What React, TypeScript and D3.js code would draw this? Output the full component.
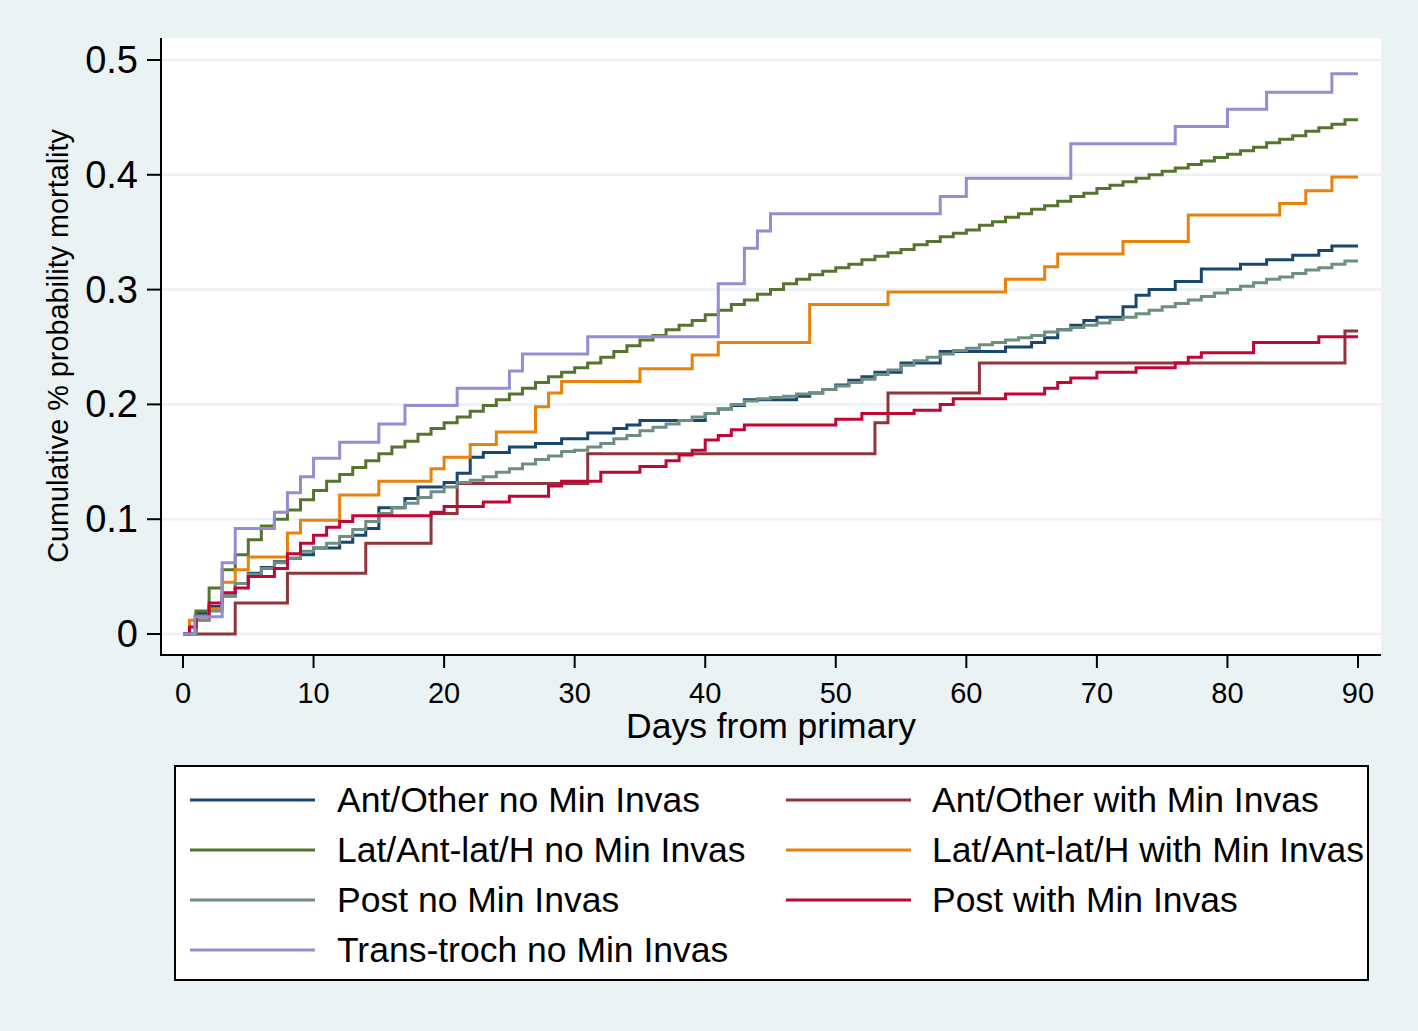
import React from "react";
import * as d3 from "d3";

// ---------- data (step points: [day, cumulative probability]) ----------
const antNoT = [0, 1, 2, 3, 4, 5, 6, 7, 8, 9, 10, 12, 13, 14, 15, 17, 18, 20, 21, 22, 23, 25, 27, 29, 31, 33, 34, 35, 40, 41, 42, 43, 47, 48, 49, 50, 51, 52, 53, 55, 58, 63, 65, 66, 67, 68, 69, 70, 72, 73, 74, 76, 78, 81, 83, 85, 87, 88];
const antNoV = [0, 0.018, 0.024, 0.033, 0.044, 0.053, 0.058, 0.063, 0.066, 0.069, 0.075, 0.08, 0.086, 0.092, 0.11, 0.118, 0.128, 0.132, 0.14, 0.154, 0.158, 0.163, 0.166, 0.17, 0.175, 0.179, 0.182, 0.186, 0.192, 0.196, 0.199, 0.204, 0.207, 0.21, 0.213, 0.217, 0.221, 0.224, 0.228, 0.236, 0.246, 0.25, 0.254, 0.258, 0.265, 0.269, 0.273, 0.276, 0.285, 0.295, 0.3, 0.307, 0.318, 0.322, 0.326, 0.33, 0.334, 0.338];

const antWithT = [0, 4, 8, 14, 19, 21, 31, 53, 54, 61, 89];
const antWithV = [0, 0.027, 0.053, 0.079, 0.105, 0.131, 0.157, 0.184, 0.21, 0.236, 0.264];

const latNoT = [0, 1, 2, 3, 4, 5, 6, 7, 8, 9, 10, 11, 12, 13, 14, 15, 16, 17, 18, 19, 20, 21, 22, 23, 24, 25, 26, 27, 28, 29, 30, 31, 32, 33, 34, 35, 36, 37, 38, 39, 40, 41, 42, 43, 44, 45, 46, 47, 48, 49, 50, 51, 52, 53, 54, 55, 56, 57, 58, 59, 60, 61, 62, 63, 64, 65, 66, 67, 68, 69, 70, 71, 72, 73, 74, 75, 76, 77, 78, 79, 80, 81, 82, 83, 84, 85, 86, 87, 88, 89];
const latNoV = [0, 0.02, 0.04, 0.056, 0.069, 0.082, 0.094, 0.1, 0.108, 0.117, 0.125, 0.133, 0.139, 0.145, 0.151, 0.157, 0.163, 0.168, 0.174, 0.179, 0.184, 0.189, 0.194, 0.199, 0.204, 0.209, 0.214, 0.219, 0.224, 0.228, 0.232, 0.236, 0.241, 0.246, 0.251, 0.256, 0.26, 0.265, 0.269, 0.273, 0.278, 0.282, 0.287, 0.291, 0.296, 0.3, 0.305, 0.309, 0.313, 0.316, 0.319, 0.322, 0.326, 0.329, 0.332, 0.335, 0.339, 0.342, 0.346, 0.349, 0.352, 0.356, 0.359, 0.363, 0.366, 0.37, 0.373, 0.377, 0.381, 0.384, 0.388, 0.391, 0.394, 0.397, 0.4, 0.403, 0.406, 0.409, 0.412, 0.415, 0.418, 0.421, 0.424, 0.428, 0.431, 0.434, 0.438, 0.441, 0.444, 0.448];

const latWithT = [0, 0.5, 2, 3, 4, 5, 8, 9, 12, 15, 19, 20, 22, 24, 27, 28, 29, 35, 39, 41, 48, 54, 63, 66, 67, 72, 77, 84, 86, 88];
const latWithV = [0, 0.012, 0.022, 0.045, 0.056, 0.067, 0.088, 0.099, 0.121, 0.133, 0.144, 0.154, 0.165, 0.176, 0.198, 0.21, 0.22, 0.231, 0.243, 0.254, 0.287, 0.298, 0.309, 0.32, 0.331, 0.342, 0.365, 0.375, 0.386, 0.398];

const postNoT = [0, 1, 2, 3, 4, 5, 6, 7, 8, 9, 10, 11, 12, 13, 14, 15, 16, 17, 18, 19, 20, 21, 22, 23, 24, 25, 26, 27, 28, 29, 30, 31, 32, 33, 34, 35, 36, 37, 38, 39, 40, 41, 42, 43, 44, 45, 46, 47, 48, 49, 50, 51, 52, 53, 54, 55, 56, 57, 58, 59, 60, 61, 62, 63, 64, 65, 66, 67, 68, 69, 70, 71, 72, 73, 74, 75, 76, 77, 78, 79, 80, 81, 82, 83, 84, 85, 86, 87, 88, 89];
const postNoV = [0, 0.012, 0.02, 0.033, 0.044, 0.052, 0.057, 0.062, 0.066, 0.072, 0.075, 0.079, 0.085, 0.091, 0.098, 0.105, 0.11, 0.114, 0.119, 0.124, 0.128, 0.132, 0.134, 0.137, 0.141, 0.144, 0.148, 0.152, 0.155, 0.159, 0.16, 0.163, 0.166, 0.17, 0.173, 0.177, 0.18, 0.183, 0.186, 0.189, 0.192, 0.196, 0.2, 0.203, 0.205, 0.206, 0.207, 0.209, 0.21, 0.213, 0.216, 0.219, 0.222, 0.226, 0.23, 0.234, 0.238, 0.241, 0.244, 0.247, 0.249, 0.252, 0.254, 0.256, 0.258, 0.26, 0.263, 0.265, 0.267, 0.269, 0.271, 0.274, 0.276, 0.279, 0.282, 0.285, 0.288, 0.291, 0.294, 0.297, 0.3, 0.303, 0.306, 0.309, 0.311, 0.314, 0.317, 0.319, 0.322, 0.325];

const postWithT = [0, 0.5, 1, 2, 3, 4, 5, 7, 8, 9, 10, 11, 12, 13, 19, 20, 23, 25, 28, 29, 32, 35, 37, 38, 39, 40, 41, 42, 43, 50, 52, 56, 58, 59, 63, 66, 67, 68, 70, 73, 76, 77, 78, 82, 87];
const postWithV = [0, 0.006, 0.015, 0.027, 0.036, 0.04, 0.05, 0.057, 0.07, 0.079, 0.086, 0.093, 0.098, 0.103, 0.106, 0.111, 0.115, 0.12, 0.129, 0.133, 0.141, 0.146, 0.151, 0.156, 0.16, 0.169, 0.173, 0.178, 0.182, 0.187, 0.192, 0.195, 0.2, 0.205, 0.209, 0.214, 0.219, 0.223, 0.228, 0.232, 0.236, 0.241, 0.245, 0.254, 0.259];

const transT = [0, 0.9, 3, 4, 7, 8, 9, 10, 12, 15, 17, 21, 25, 26, 31, 41, 43, 44, 45, 58, 60, 68, 76, 80, 83, 88];
const transV = [0, 0.015, 0.062, 0.092, 0.106, 0.123, 0.137, 0.153, 0.167, 0.183, 0.199, 0.214, 0.229, 0.244, 0.259, 0.305, 0.336, 0.351, 0.366, 0.381, 0.397, 0.427, 0.442, 0.457, 0.472, 0.488];

const seriesNames = [
  "Ant/Other no Min Invas",
  "Ant/Other with Min Invas",
  "Lat/Ant-lat/H no Min Invas",
  "Lat/Ant-lat/H with Min Invas",
  "Post no Min Invas",
  "Post with Min Invas",
  "Trans-troch no Min Invas",
];
const seriesColors = ["#1a476f", "#90353b", "#55752f", "#e8820a", "#6e8e84", "#c10534", "#938dd2"];
const seriesTimes = [antNoT, antWithT, latNoT, latWithT, postNoT, postWithT, transT];
const seriesValues = [antNoV, antWithV, latNoV, latWithV, postNoV, postWithV, transV];

const xTicks = [0, 10, 20, 30, 40, 50, 60, 70, 80, 90];
const yTicks = [0, 0.1, 0.2, 0.3, 0.4, 0.5];
const yTickLabels = ["0", "0.1", "0.2", "0.3", "0.4", "0.5"];
const maxDay = 90;

const legendOrder = [0, 1, 2, 3, 4, 5, 6];

const W = 1418;
const H = 1031;
const FONT = "'Liberation Sans', Arial, Helvetica, sans-serif";
const BG = "#eaf2f3";

export default function App() {
  const plot = { left: 161, right: 1381, top: 38, bottom: 655 };
  const x = d3.scaleLinear().domain([0, 90]).range([183, 1358]);
  const y = d3.scaleLinear().domain([0, 0.5]).range([634, 60]);

  const line = d3
    .line<[number, number]>()
    .x((d) => x(d[0]))
    .y((d) => y(d[1]))
    .curve(d3.curveStepAfter);

  const paths = seriesTimes.map((ts, i) => {
    const vs = seriesValues[i];
    const pts: [number, number][] = ts.map((t, j) => [t, vs[j]]);
    pts.push([maxDay, vs[vs.length - 1]]);
    return line(pts) || "";
  });

  const legX = [190, 786];
  const legTextX = [337, 932];
  const legRowY = [800, 850, 900, 950];

  return (
    <svg
      width={W}
      height={H}
      style={{ position: "absolute", left: 0, top: 0, display: "block" }}
      fontFamily={FONT}
    >
      <rect x={0} y={0} width={W} height={H} fill={BG} />
      <rect
        x={plot.left}
        y={plot.top}
        width={plot.right - plot.left}
        height={plot.bottom - plot.top}
        fill="#ffffff"
      />
      {yTicks.map((t) => (
        <line
          key={"g" + t}
          x1={plot.left}
          x2={plot.right}
          y1={y(t)}
          y2={y(t)}
          stroke={BG}
          strokeWidth={2.5}
        />
      ))}
      {paths.map((d, i) => (
        <path key={"s" + i} d={d} fill="none" stroke={seriesColors[i]} strokeWidth={3} strokeLinejoin="miter" />
      ))}
      <line x1={plot.left} x2={plot.left} y1={plot.top} y2={plot.bottom + 1} stroke="#000" strokeWidth={2} />
      <line x1={plot.left - 1} x2={plot.right} y1={plot.bottom} y2={plot.bottom} stroke="#000" strokeWidth={2} />
      {yTicks.map((t, i) => (
        <g key={"yt" + t}>
          <line x1={147} x2={plot.left} y1={y(t)} y2={y(t)} stroke="#000" strokeWidth={2} />
          <text x={138} y={y(t)} textAnchor="end" dominantBaseline="central" fontSize={38} fill="#000">
            {yTickLabels[i]}
          </text>
        </g>
      ))}
      {xTicks.map((t) => (
        <g key={"xt" + t}>
          <line x1={x(t)} x2={x(t)} y1={plot.bottom} y2={668} stroke="#000" strokeWidth={2} />
          <text x={x(t)} y={693} textAnchor="middle" dominantBaseline="central" fontSize={29} fill="#000">
            {t}
          </text>
        </g>
      ))}
      <text x={771} y={726} textAnchor="middle" dominantBaseline="central" fontSize={35.5} fill="#000">
        Days from primary
      </text>
      <text
        transform={`translate(58,346) rotate(-90)`}
        textAnchor="middle"
        dominantBaseline="central"
        fontSize={28.8}
        fill="#000"
      >
        Cumulative % probability mortality
      </text>
      <rect x={175} y={766} width={1193} height={214} fill="#ffffff" stroke="#000" strokeWidth={2} />
      {legendOrder.map((si, k) => {
        const col = k % 2;
        const row = Math.floor(k / 2);
        const ly = legRowY[row];
        return (
          <g key={"l" + si}>
            <line x1={legX[col]} x2={legX[col] + 125} y1={ly} y2={ly} stroke={seriesColors[si]} strokeWidth={3} />
            <text x={legTextX[col]} y={ly} dominantBaseline="central" fontSize={35.5} fill="#000">
              {seriesNames[si]}
            </text>
          </g>
        );
      })}
    </svg>
  );
}
